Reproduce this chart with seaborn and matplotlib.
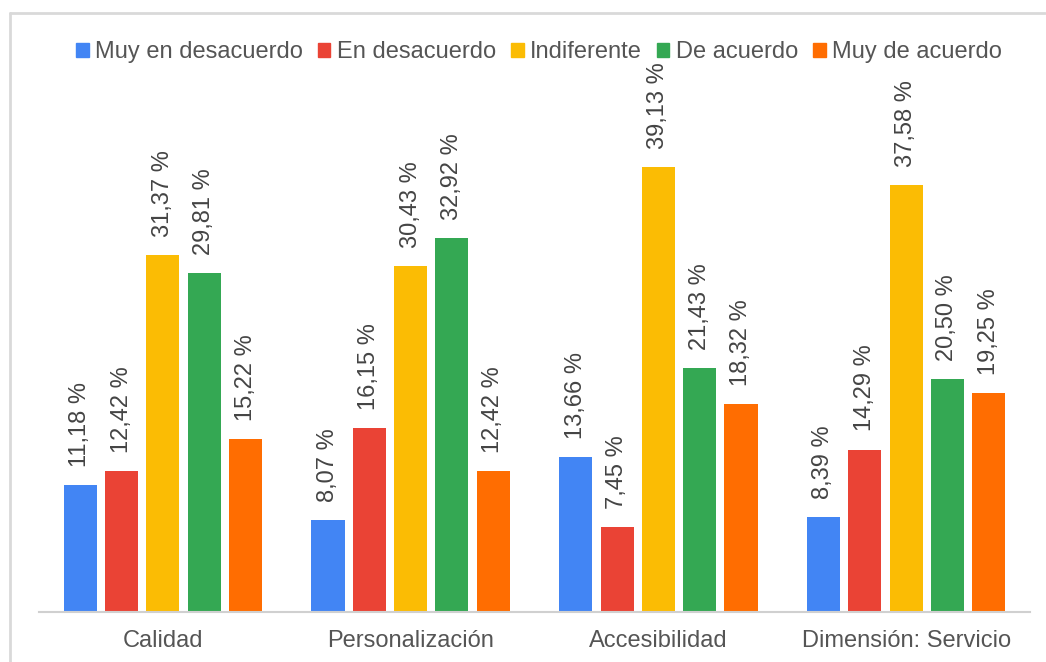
import matplotlib
matplotlib.use("Agg")
import matplotlib.pyplot as plt
from matplotlib.lines import Line2D
import seaborn as sns
import pandas as pd

# Survey results (percent of respondents per answer)
categories = ["Calidad", "Personalización", "Accesibilidad", "Dimensión: Servicio"]
answers = ["Muy en desacuerdo", "En desacuerdo", "Indiferente", "De acuerdo", "Muy de acuerdo"]
muy_en_desacuerdo = [11.18, 8.07, 13.66, 8.39]
en_desacuerdo = [12.42, 16.15, 7.45, 14.29]
indiferente = [31.37, 30.43, 39.13, 37.58]
de_acuerdo = [29.81, 32.92, 21.43, 20.50]
muy_de_acuerdo = [15.22, 12.42, 18.32, 19.25]
series = [muy_en_desacuerdo, en_desacuerdo, indiferente, de_acuerdo, muy_de_acuerdo]
colors = ["#4285F4", "#EA4335", "#FBBC04", "#34A853", "#FF6D01"]

rows = []
for answer, values in zip(answers, series):
    for cat, v in zip(categories, values):
        rows.append({"Dimensión": cat, "Respuesta": answer, "Porcentaje": v})
df = pd.DataFrame(rows)

sns.set_theme(style="white")
plt.rcParams["font.family"] = ["Liberation Sans", "DejaVu Sans"]
text_color = "#555555"

W, H = 1046, 662
fig = plt.figure(figsize=(W / 100, H / 100), dpi=100)
ax = fig.add_axes([39 / W, (H - 612) / H, (1030 - 39) / W, (612 - 134.5) / H])

sns.barplot(data=df, x="Dimensión", y="Porcentaje", hue="Respuesta",
            hue_order=answers, order=categories, palette=colors,
            width=0.834, gap=0.2, linewidth=0, saturation=1, ax=ax,
            legend=False)

ax.set_xlim(-0.5, 3.5)
ax.set_ylim(0, 42)
ax.set_xlabel("")
ax.set_ylabel("")
ax.set_yticks([])
ax.tick_params(axis="x", length=0, pad=13, labelsize=17, labelcolor=text_color)
for side in ["top", "right", "left"]:
    ax.spines[side].set_visible(False)
ax.spines["bottom"].set_color("#d0d0d0")
ax.spines["bottom"].set_linewidth(1.5)

for container, values in zip(ax.containers, series):
    labels = [f"{v:.2f}".replace(".", ",") + " %" for v in values]
    ax.bar_label(container, labels=labels, rotation=90, padding=13,
                 fontsize=17, color="#444444")

handles = [plt.Rectangle((0, 0), 1, 1, color=c) for c in colors]
fig.legend(handles, answers, loc="center", bbox_to_anchor=(539 / W, 1 - 52 / H),
           ncol=5, frameon=False, fontsize=17, labelcolor=text_color,
           handlelength=0.52, handleheight=0.52, handletextpad=0.26,
           columnspacing=0.66, borderaxespad=0)

# Outer frame
frame_color = "#d9d9d9"
fig.add_artist(Line2D([10 / W, 1045 / W], [1 - 13 / H, 1 - 13 / H],
                      transform=fig.transFigure, color=frame_color, lw=2))
fig.add_artist(Line2D([10 / W, 10 / W], [0, 1 - 13 / H],
                      transform=fig.transFigure, color=frame_color, lw=2))

fig.savefig("out.png", dpi=100, facecolor="white")
